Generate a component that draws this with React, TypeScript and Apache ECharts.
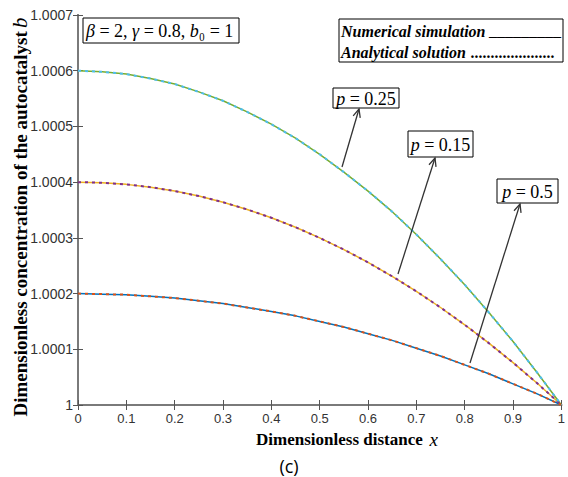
import React, { useEffect, useRef } from "react";
import * as echarts from "echarts";

// x positions (dimensionless distance)
const xValues = [0, 0.05, 0.1, 0.15, 0.2, 0.25, 0.3, 0.35, 0.4, 0.45, 0.5, 0.55, 0.6, 0.65, 0.7, 0.75, 0.8, 0.85, 0.9, 0.95, 1];

// b - 1, in units of 1e-4
const numericalTop = [6.0, 5.98, 5.94, 5.86, 5.76, 5.62, 5.46, 5.26, 5.04, 4.79, 4.5, 4.18, 3.84, 3.47, 3.06, 2.62, 2.16, 1.66, 1.14, 0.58, 0];
const analyticalTop = [6.0, 5.98, 5.94, 5.86, 5.76, 5.62, 5.46, 5.26, 5.04, 4.79, 4.5, 4.18, 3.84, 3.47, 3.06, 2.62, 2.16, 1.66, 1.14, 0.58, 0];
const numericalMid = [4.0, 3.99, 3.96, 3.91, 3.84, 3.75, 3.64, 3.51, 3.36, 3.19, 3.0, 2.79, 2.56, 2.31, 2.04, 1.75, 1.44, 1.11, 0.76, 0.39, 0];
const analyticalMid = [4.0, 3.99, 3.96, 3.91, 3.84, 3.75, 3.64, 3.51, 3.36, 3.19, 3.0, 2.79, 2.56, 2.31, 2.04, 1.75, 1.44, 1.11, 0.76, 0.39, 0];
const numericalLow = [2.0, 1.99, 1.98, 1.95, 1.92, 1.87, 1.82, 1.75, 1.68, 1.6, 1.5, 1.4, 1.28, 1.16, 1.02, 0.88, 0.72, 0.56, 0.38, 0.2, 0];
const analyticalLow = [2.0, 1.99, 1.98, 1.95, 1.92, 1.87, 1.82, 1.75, 1.68, 1.6, 1.5, 1.4, 1.28, 1.16, 1.02, 0.88, 0.72, 0.56, 0.38, 0.2, 0];

const yTickLabels = ["1", "1.0001", "1.0002", "1.0003", "1.0004", "1.0005", "1.0006", "1.0007"];
const xTickLabels = ["0", "0.1", "0.2", "0.3", "0.4", "0.5", "0.6", "0.7", "0.8", "0.9", "1"];

const pair = (ys: number[]) => xValues.map((x, i) => [x, ys[i]]);

const SERIF = "'Liberation Serif', 'Times New Roman', serif";
const SANS = "'Liberation Sans', Arial, sans-serif";

function arrow(tail: [number, number], head: [number, number]) {
  const dx = head[0] - tail[0];
  const dy = head[1] - tail[1];
  const ang = Math.atan2(dy, dx);
  const L = 9;
  const a = 0.42;
  const p1 = [head[0] - L * Math.cos(ang - a), head[1] - L * Math.sin(ang - a)];
  const p2 = [head[0] - L * Math.cos(ang + a), head[1] - L * Math.sin(ang + a)];
  return [
    { type: "line", shape: { x1: tail[0], y1: tail[1], x2: head[0], y2: head[1] }, style: { stroke: "#333", lineWidth: 1.3 }, z: 100 },
    { type: "polyline", shape: { points: [p1, head, p2] }, style: { stroke: "#333", lineWidth: 1.3, fill: null }, z: 100 },
  ];
}

function labelBox(x: number, y: number, w: number, h: number, val: string) {
  return [
    { type: "rect", shape: { x, y, width: w, height: h }, style: { fill: "#fff", stroke: "#000", lineWidth: 1 }, z: 100 },
    {
      type: "text",
      x: x + w / 2,
      y: y + h / 2 + 1,
      z: 101,
      style: {
        text: "{i|p} = " + val,
        align: "center",
        verticalAlign: "middle",
        fontFamily: SERIF,
        fontSize: 18,
        fill: "#000",
        rich: { i: { fontStyle: "italic", fontFamily: SERIF, fontSize: 18 } },
      },
    },
  ];
}

export default function App() {
  const ref = useRef<HTMLDivElement>(null);
  useEffect(() => {
    document.body.style.margin = "0";
    const chart = echarts.init(ref.current!, null, { renderer: "svg" });
    const axisLine = { show: true, lineStyle: { color: "#7a7a7a", width: 2 } };
    const tick = { show: true, inside: true, length: 5, lineStyle: { color: "#555", width: 1 } };
    const line = (name: string, ys: number[], color: string, dotted: boolean) => ({
      name,
      type: "line",
      data: pair(ys),
      showSymbol: false,
      smooth: false,
      lineStyle: { color, width: dotted ? 2 : 1.5, type: dotted ? [3, 4] : "solid" },
      z: dotted ? 3 : 2,
    });
    const text = (x: number, y: number, t: string, extra: any = {}) => ({
      type: "text",
      x,
      y,
      z: 101,
      style: { text: t, align: "left", verticalAlign: "middle", fontFamily: SERIF, fontStyle: "italic", fontWeight: "bold", fontSize: 16, fill: "#000", ...extra },
    });
    chart.setOption({
      animation: false,
      grid: { left: 78, right: 1, top: 15, bottom: 72, containLabel: false },
      xAxis: [
        {
          type: "value",
          min: 0,
          max: 1,
          interval: 0.1,
          axisLine,
          axisTick: tick,
          splitLine: { show: false },
          axisLabel: {
            margin: 7,
            color: "#333",
            fontFamily: SANS,
            fontSize: 13,
            formatter: (v: number) => xTickLabels[Math.round(v * 10)],
          },
        },
        { type: "value", position: "top", min: 0, max: 1, interval: 0.1, axisLine, axisTick: tick, splitLine: { show: false }, axisLabel: { show: false } },
      ],
      yAxis: [
        {
          type: "value",
          min: 0,
          max: 7,
          interval: 1,
          axisLine,
          axisTick: tick,
          splitLine: { show: false },
          axisLabel: {
            margin: 5,
            color: "#333",
            fontFamily: SANS,
            fontSize: 14,
            formatter: (v: number) => yTickLabels[Math.round(v)],
          },
        },
        { type: "value", position: "right", min: 0, max: 7, interval: 1, axisLine, axisTick: tick, splitLine: { show: false }, axisLabel: { show: false } },
      ],
      series: [
        line("Numerical p low", numericalLow, "#0072BD", false),
        line("Analytical p low", analyticalLow, "#D95319", true),
        line("Numerical p mid", numericalMid, "#EDB120", false),
        line("Analytical p mid", analyticalMid, "#7E2F8E", true),
        line("Numerical p top", numericalTop, "#77AC30", false),
        line("Analytical p top", analyticalTop, "#4DBEEE", true),
      ],
      graphic: [
        {
          type: "text",
          x: 20,
          y: 217,
          rotation: Math.PI / 2,
          style: {
            text: "{b|Dimensionless concentration of the autocatalyst} {i|b}",
            align: "center",
            verticalAlign: "middle",
            fill: "#000",
            rich: {
              b: { fontFamily: SERIF, fontWeight: "bold", fontSize: 19, fill: "#000" },
              i: { fontFamily: SERIF, fontStyle: "italic", fontSize: 21, fill: "#000" },
            },
          },
        },
        {
          type: "text",
          x: 347,
          y: 439,
          style: {
            text: "{b|Dimensionless distance}  {i|x}",
            align: "center",
            verticalAlign: "middle",
            fill: "#000",
            rich: {
              b: { fontFamily: SERIF, fontWeight: "bold", fontSize: 17, fill: "#000" },
              i: { fontFamily: SERIF, fontStyle: "italic", fontSize: 19, fill: "#000" },
            },
          },
        },
        {
          type: "text",
          x: 289,
          y: 466,
          style: { text: "(c)", align: "center", verticalAlign: "middle", fontFamily: "'Open Sans', Arial, sans-serif", fontSize: 18, fill: "#000" },
        },
        { type: "rect", shape: { x: 83, y: 18, width: 156, height: 25 }, style: { fill: "#fff", stroke: "#000", lineWidth: 1 }, z: 100 },
        {
          type: "text",
          x: 86,
          y: 31,
          z: 101,
          style: {
            text: "{i|β} = 2, {i|γ} = 0.8, {i|b}₀ = 1",
            align: "left",
            verticalAlign: "middle",
            fontFamily: SERIF,
            fontSize: 18,
            fill: "#000",
            rich: {
              i: { fontStyle: "italic", fontFamily: SERIF, fontSize: 18 },
            },
          },
        },
        { type: "rect", shape: { x: 339, y: 19, width: 224, height: 43 }, style: { fill: "#fff", stroke: "#000", lineWidth: 1 }, z: 100 },
        text(341, 31, "Numerical simulation"),
        text(489, 30, "_________", { fontStyle: "normal", fontWeight: "normal" }),
        text(341, 52, "Analytical solution"),
        text(471, 52, "....................."),
        ...labelBox(333, 88, 66, 20, "0.25"),
        ...labelBox(408, 131, 65, 26, "0.15"),
        ...labelBox(497, 179, 61, 24, "0.5"),
        ...arrow([342, 167], [359, 109]),
        ...arrow([398, 274], [435, 158]),
        ...arrow([470, 363], [520, 204]),
      ],
    });
    return () => chart.dispose();
  }, []);
  return <div ref={ref} style={{ width: 568, height: 477 }} />;
}
